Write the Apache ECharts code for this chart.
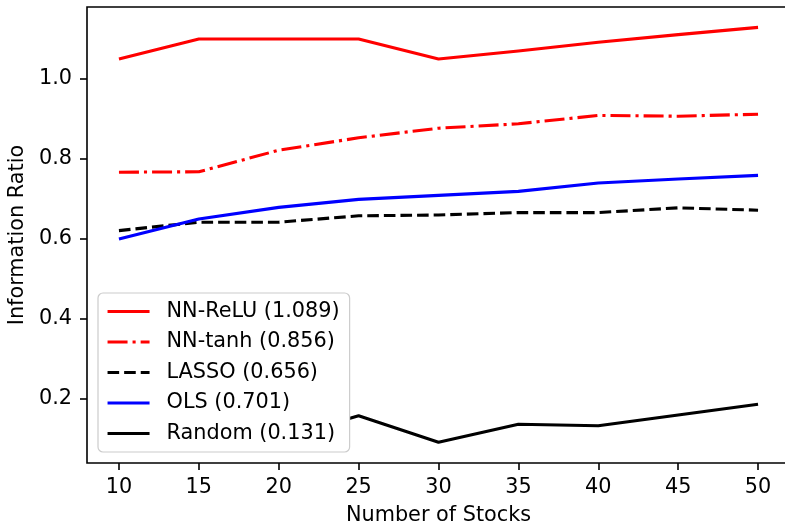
<!DOCTYPE html>
<html>
<head>
<meta charset="utf-8">
<script src="https://cdn.jsdelivr.net/npm/echarts@6/dist/echarts.min.js"></script>
<style>
html,body{margin:0;padding:0;background:#fff;}
#chart{width:785px;height:523px;}
</style>
</head>
<body>
<div id="chart"></div>
<script>
var stocks = [10, 15, 20, 25, 30, 35, 40, 45, 50];
var xTicks = [10, 15, 20, 25, 30, 35, 40, 45, 50];
var yTicks = [0.2, 0.4, 0.6, 0.8, 1.0];
var nnRelu = [1.05, 1.10, 1.10, 1.10, 1.05, 1.07, 1.092, 1.111, 1.129];
var nnTanh = [0.767, 0.768, 0.822, 0.853, 0.877, 0.888, 0.909, 0.907, 0.912];
var lasso  = [0.621, 0.642, 0.642, 0.658, 0.660, 0.666, 0.666, 0.678, 0.672];
var ols    = [0.600, 0.650, 0.679, 0.699, 0.709, 0.719, 0.740, 0.750, 0.759];
var random = [0.100, 0.110, 0.100, 0.158, 0.092, 0.137, 0.133, 0.160, 0.187];
var names = ['NN-ReLU (1.089)', 'NN-tanh (0.856)', 'LASSO (0.656)', 'OLS (0.701)', 'Random (0.131)'];

function pairs(arr){ return stocks.map(function(x,i){ return [x, arr[i]]; }); }

var FONT = 'DejaVu Sans';
var FS = 20.8;
var LW = 3.1;

function mk(name, data, color, type){
  return {
    name: name, type: 'line', data: pairs(data), symbol: 'none', showSymbol: false,
    lineStyle: {color: color, width: LW, type: type, cap: 'butt', join: 'round'},
    itemStyle: {color: color},
    emphasis: {disabled: true}, animation: false
  };
}

var chart = echarts.init(document.getElementById('chart'), null, {renderer: 'canvas'});
chart.setOption({
  backgroundColor: '#ffffff',
  animation: false,
  textStyle: {fontFamily: FONT},
  grid: {left: 87, right: -5, top: 7, bottom: 60, show: true, borderColor: '#000', borderWidth: 1.6,
    backgroundColor: 'transparent', containLabel: false, outerBoundsMode: 'none'},
  xAxis: {
    type: 'value', min: 8, max: 52,
    name: 'Number of Stocks', nameLocation: 'middle', nameGap: 42,
    nameTextStyle: {fontFamily: FONT, fontSize: FS, color: '#000'},
    axisLine: {show: false},
    axisTick: {show: true, length: 7, lineStyle: {color: '#000', width: 1.6}, customValues: xTicks},
    axisLabel: {show: true, margin: 14, fontFamily: FONT, fontSize: FS, color: '#000', customValues: xTicks,
      formatter: function(v){ return String(v); }},
    splitLine: {show: false}
  },
  yAxis: {
    type: 'value', min: 0.04, max: 1.18,
    name: 'Information Ratio', nameLocation: 'middle', nameGap: 54, nameRotate: 90,
    nameTextStyle: {fontFamily: FONT, fontSize: FS, color: '#000'},
    axisLine: {show: false},
    axisTick: {show: true, length: 7, lineStyle: {color: '#000', width: 1.6}, customValues: yTicks},
    axisLabel: {show: true, margin: 15, fontFamily: FONT, fontSize: FS, color: '#000', customValues: yTicks,
      formatter: function(v){ return v.toFixed(1); }},
    splitLine: {show: false}
  },
  legend: {
    orient: 'vertical', left: 98, bottom: 71,
    backgroundColor: '#ffffff', borderColor: '#cccccc', borderWidth: 1.2, borderRadius: 5,
    padding: [8, 10, 8, 8],
    itemWidth: 42, itemHeight: 14, itemGap: 9.5,
    selectedMode: false,
    itemStyle: {color: 'transparent', borderColor: 'transparent', borderWidth: 0, opacity: 0},
    lineStyle: {width: LW},
    textStyle: {fontFamily: FONT, fontSize: FS, color: '#000', lineHeight: 21, padding: [0, 0, 0, 12]},
    data: names
  },
  series: [
    mk(names[0], nnRelu, '#ff0000', 'solid'),
    mk(names[1], nnTanh, '#ff0000', [20, 5, 3.1, 5]),
    mk(names[2], lasso, '#000000', [11.6, 5]),
    mk(names[3], ols, '#0000ff', 'solid'),
    mk(names[4], random, '#000000', 'solid')
  ]
});
</script>
</body>
</html>
